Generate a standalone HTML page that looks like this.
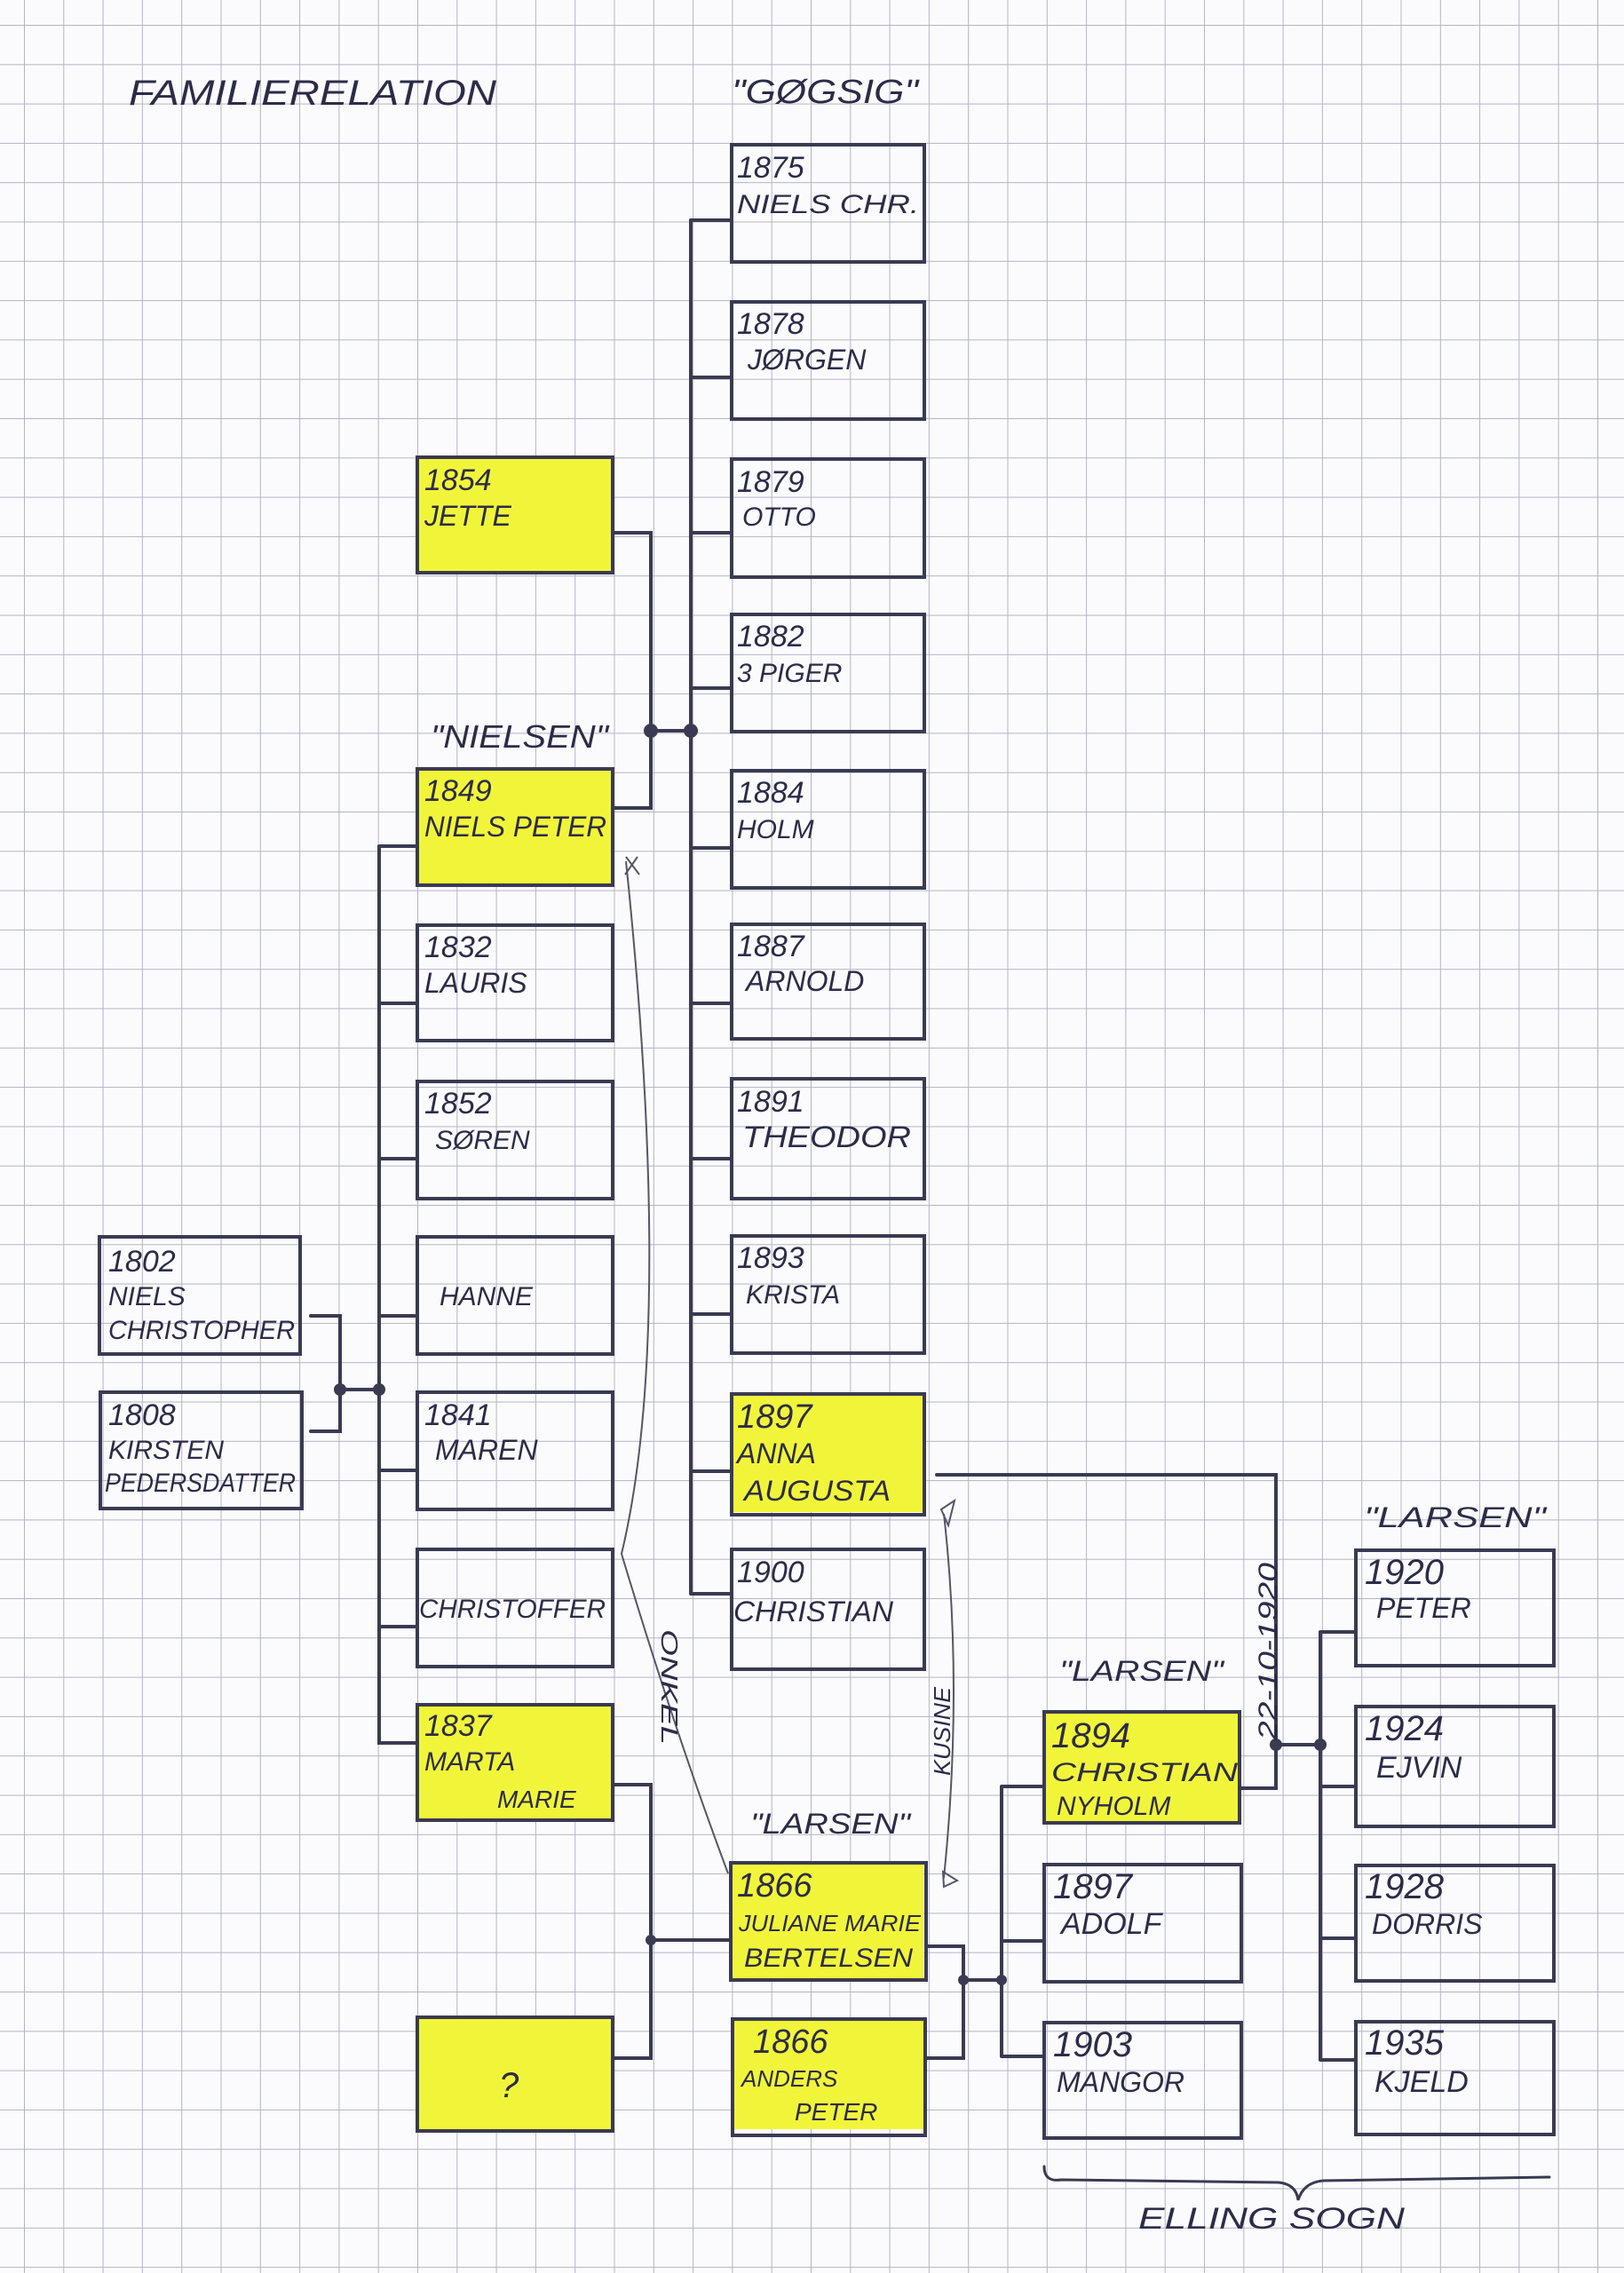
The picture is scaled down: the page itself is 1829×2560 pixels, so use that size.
<!DOCTYPE html>
<html><head><meta charset="utf-8"><style>
html,body{margin:0;padding:0;background:#fff}
svg{display:block}
text{font-family:"Liberation Sans",sans-serif;font-style:italic;fill:#2c2c48}
</style></head><body>
<svg width="1829" height="2560" viewBox="0 0 1829 2560" xmlns="http://www.w3.org/2000/svg">
<defs>
<pattern id="g" x="27" y="28" width="44.3" height="44.3" patternUnits="userSpaceOnUse">
<path d="M0 0H44.3M0 0V44.3" stroke="#b4b4c4" stroke-width="2" fill="none"/>
</pattern>
</defs>
<rect width="1829" height="2560" fill="#fbfbfd"/>
<rect width="1829" height="2560" fill="url(#g)"/>

<!-- yellow highlights -->
<g fill="#f1f53a">
<rect x="472" y="517" width="218" height="126"/>
<rect x="472" y="868" width="220" height="128"/>
<rect x="472" y="1922" width="218" height="126"/>
<rect x="472" y="2274" width="220" height="124"/>
<rect x="825" y="1572" width="215" height="131"/>
<rect x="825" y="2100" width="215" height="128"/>
<rect x="825" y="2274" width="215" height="124"/>
<rect x="1174" y="1927" width="222" height="124"/>
</g>

<g fill="none" stroke="#3a3a52" stroke-width="4" stroke-linecap="round">
<!-- A boxes -->
<rect x="112" y="1393" width="226" height="132"/>
<rect x="113" y="1568" width="227" height="131"/>
<!-- B boxes -->
<rect x="470" y="515" width="220" height="130"/>
<rect x="470" y="866" width="220" height="131"/>
<rect x="470" y="1042" width="220" height="130"/>
<rect x="470" y="1218" width="220" height="132"/>
<rect x="470" y="1393" width="220" height="132"/>
<rect x="470" y="1568" width="220" height="132"/>
<rect x="470" y="1745" width="220" height="132"/>
<rect x="470" y="1920" width="220" height="130"/>
<rect x="470" y="2272" width="220" height="128"/>
<!-- C boxes -->
<rect x="824" y="163" width="217" height="132"/>
<rect x="824" y="340" width="217" height="132"/>
<rect x="824" y="517" width="217" height="133"/>
<rect x="824" y="692" width="217" height="132"/>
<rect x="824" y="868" width="217" height="132"/>
<rect x="824" y="1041" width="217" height="129"/>
<rect x="824" y="1215" width="217" height="135"/>
<rect x="824" y="1392" width="217" height="132"/>
<rect x="824" y="1570" width="217" height="136"/>
<rect x="824" y="1745" width="217" height="135"/>
<rect x="823" y="2098" width="220" height="132"/>
<rect x="825" y="2274" width="217" height="131"/>
<!-- D boxes -->
<rect x="1176" y="1928" width="220" height="125"/>
<rect x="1176" y="2100" width="222" height="132"/>
<rect x="1176" y="2278" width="222" height="130"/>
<!-- E boxes -->
<rect x="1527" y="1746" width="223" height="130"/>
<rect x="1527" y="1922" width="223" height="135"/>
<rect x="1527" y="2101" width="223" height="130"/>
<rect x="1527" y="2277" width="223" height="127"/>

<!-- connectors -->
<path d="M350 1482H383V1612H350M383 1565H427"/>
<path d="M427 953V1963H470M427 953H470M427 1130H470M427 1305H470M427 1482H470M427 1656H470M427 1832H470"/>
<path d="M690 600H733V910H690M733 823H778"/>
<path d="M778 248V1795M778 248H824M778 425H824M778 600H824M778 775H824M778 955H824M778 1130H824M778 1305H824M778 1480H824M778 1657H824M778 1795H824"/>
<path d="M690 2010H733V2318H690M733 2185H823"/>
<path d="M1043 2192H1085V2318H1042M1085 2230H1128M1128 2012V2316M1128 2012H1176M1128 2186H1176M1128 2316H1176"/>
<path d="M1055 1661H1437V2014H1396M1437 1965H1487M1487 1838V2320M1487 1838H1527M1487 2012H1527M1487 2183H1527M1487 2320H1527"/>
<path d="M1176 2440Q1176 2458 1195 2455L1440 2458Q1460 2460 1462 2478Q1468 2458 1490 2456L1745 2452" stroke-width="3"/>
</g>
<g fill="#3a3a52">
<circle cx="383" cy="1565" r="7"/><circle cx="427" cy="1565" r="7"/>
<circle cx="733" cy="823" r="8"/><circle cx="778" cy="823" r="8"/>
<circle cx="733" cy="2185" r="6"/><circle cx="1085" cy="2230" r="6"/><circle cx="1128" cy="2230" r="6"/>
<circle cx="1437" cy="1965" r="7"/><circle cx="1487" cy="1965" r="7"/>
</g>

<!-- thin annotation curves -->
<g fill="none" stroke="#555566" stroke-width="2">
<path d="M705 970Q760 1500 700 1750Q760 1950 820 2110"/>
<path d="M1063 1705Q1085 1900 1063 2115"/>
<path d="M1060 1700L1075 1690L1068 1718Z"/>
<path d="M1063 2125L1078 2118L1062 2108Z"/>
<path d="M705 965L720 985M718 965L704 985"/>
</g>

<!-- titles -->
<text x="145" y="118" font-size="40" textLength="414" lengthAdjust="spacingAndGlyphs">FAMILIERELATION</text>
<text x="824" y="116" font-size="38" textLength="210" lengthAdjust="spacingAndGlyphs">"GØGSIG"</text>
<text x="485" y="842" font-size="36" textLength="200" lengthAdjust="spacingAndGlyphs">"NIELSEN"</text>
<text x="845" y="2065" font-size="32" textLength="180" lengthAdjust="spacingAndGlyphs">"LARSEN"</text>
<text x="1193" y="1893" font-size="32" textLength="185" lengthAdjust="spacingAndGlyphs">"LARSEN"</text>
<text x="1536" y="1720" font-size="32" textLength="205" lengthAdjust="spacingAndGlyphs">"LARSEN"</text>
<text x="1282" y="2510" font-size="34" textLength="300" lengthAdjust="spacingAndGlyphs">ELLING SOGN</text>
<text transform="translate(1438,1960) rotate(-90)" font-size="30" textLength="200" lengthAdjust="spacingAndGlyphs">22-10-1920</text>
<text transform="translate(1070,2000) rotate(-90)" font-size="26" textLength="100" lengthAdjust="spacingAndGlyphs">KUSINE</text>
<text transform="translate(745,1835) rotate(90)" font-size="26" textLength="130" lengthAdjust="spacingAndGlyphs">ONKEL</text>

<g font-size="34">
<!-- A -->
<text x="122" y="1432">1802</text><text x="122" y="1470" font-size="30">NIELS</text><text x="122" y="1508" font-size="30" textLength="210" lengthAdjust="spacingAndGlyphs">CHRISTOPHER</text>
<text x="122" y="1605">1808</text><text x="122" y="1643" font-size="30">KIRSTEN</text><text x="118" y="1680" font-size="30" textLength="215" lengthAdjust="spacingAndGlyphs">PEDERSDATTER</text>
<!-- B -->
<text x="478" y="552">1854</text><text x="478" y="592" font-size="32">JETTE</text>
<text x="478" y="902">1849</text><text x="478" y="942" font-size="32" textLength="205" lengthAdjust="spacingAndGlyphs">NIELS PETER</text>
<text x="478" y="1078">1832</text><text x="478" y="1118" font-size="32">LAURIS</text>
<text x="478" y="1254">1852</text><text x="490" y="1294" font-size="30">SØREN</text>
<text x="495" y="1470" font-size="30">HANNE</text>
<text x="478" y="1605">1841</text><text x="490" y="1644" font-size="32">MAREN</text>
<text x="472" y="1822" font-size="30" textLength="210" lengthAdjust="spacingAndGlyphs">CHRISTOFFER</text>
<text x="478" y="1955">1837</text><text x="478" y="1994" font-size="30">MARTA</text><text x="560" y="2036" font-size="28">MARIE</text>
<text x="562" y="2362" font-size="40">?</text>
<!-- C -->
<text x="830" y="200">1875</text><text x="830" y="240" font-size="30" textLength="205" lengthAdjust="spacingAndGlyphs">NIELS CHR.</text>
<text x="830" y="376">1878</text><text x="842" y="416" font-size="32">JØRGEN</text>
<text x="830" y="554">1879</text><text x="836" y="592" font-size="30">OTTO</text>
<text x="830" y="728">1882</text><text x="830" y="768" font-size="30">3 PIGER</text>
<text x="830" y="904">1884</text><text x="830" y="944" font-size="30">HOLM</text>
<text x="830" y="1077">1887</text><text x="840" y="1116" font-size="32">ARNOLD</text>
<text x="830" y="1252">1891</text><text x="836" y="1292" font-size="34" textLength="190" lengthAdjust="spacingAndGlyphs">THEODOR</text>
<text x="830" y="1428">1893</text><text x="840" y="1468" font-size="30">KRISTA</text>
<text x="830" y="1608" font-size="38">1897</text><text x="830" y="1648" font-size="32">ANNA</text><text x="838" y="1690" font-size="32" textLength="165" lengthAdjust="spacingAndGlyphs">AUGUSTA</text>
<text x="830" y="1782">1900</text><text x="826" y="1826" font-size="32" textLength="180" lengthAdjust="spacingAndGlyphs">CHRISTIAN</text>
<text x="830" y="2136" font-size="38">1866</text><text x="832" y="2175" font-size="26" textLength="205" lengthAdjust="spacingAndGlyphs">JULIANE MARIE</text><text x="838" y="2215" font-size="30" textLength="190" lengthAdjust="spacingAndGlyphs">BERTELSEN</text>
<text x="848" y="2312" font-size="38">1866</text><text x="835" y="2350" font-size="26">ANDERS</text><text x="895" y="2388" font-size="28">PETER</text>
<!-- D -->
<text x="1184" y="1968" font-size="40">1894</text><text x="1184" y="2006" font-size="30" textLength="210" lengthAdjust="spacingAndGlyphs">CHRISTIAN</text><text x="1190" y="2044" font-size="30">NYHOLM</text>
<text x="1186" y="2138" font-size="40">1897</text><text x="1195" y="2178" font-size="34">ADOLF</text>
<text x="1186" y="2316" font-size="40">1903</text><text x="1190" y="2356" font-size="32">MANGOR</text>
<!-- E -->
<text x="1537" y="1784" font-size="40">1920</text><text x="1550" y="1822" font-size="32">PETER</text>
<text x="1537" y="1960" font-size="40">1924</text><text x="1550" y="2002" font-size="34">EJVIN</text>
<text x="1537" y="2138" font-size="40">1928</text><text x="1545" y="2178" font-size="32">DORRIS</text>
<text x="1537" y="2314" font-size="40">1935</text><text x="1548" y="2356" font-size="34">KJELD</text>
</g>
</svg>
</body></html>
